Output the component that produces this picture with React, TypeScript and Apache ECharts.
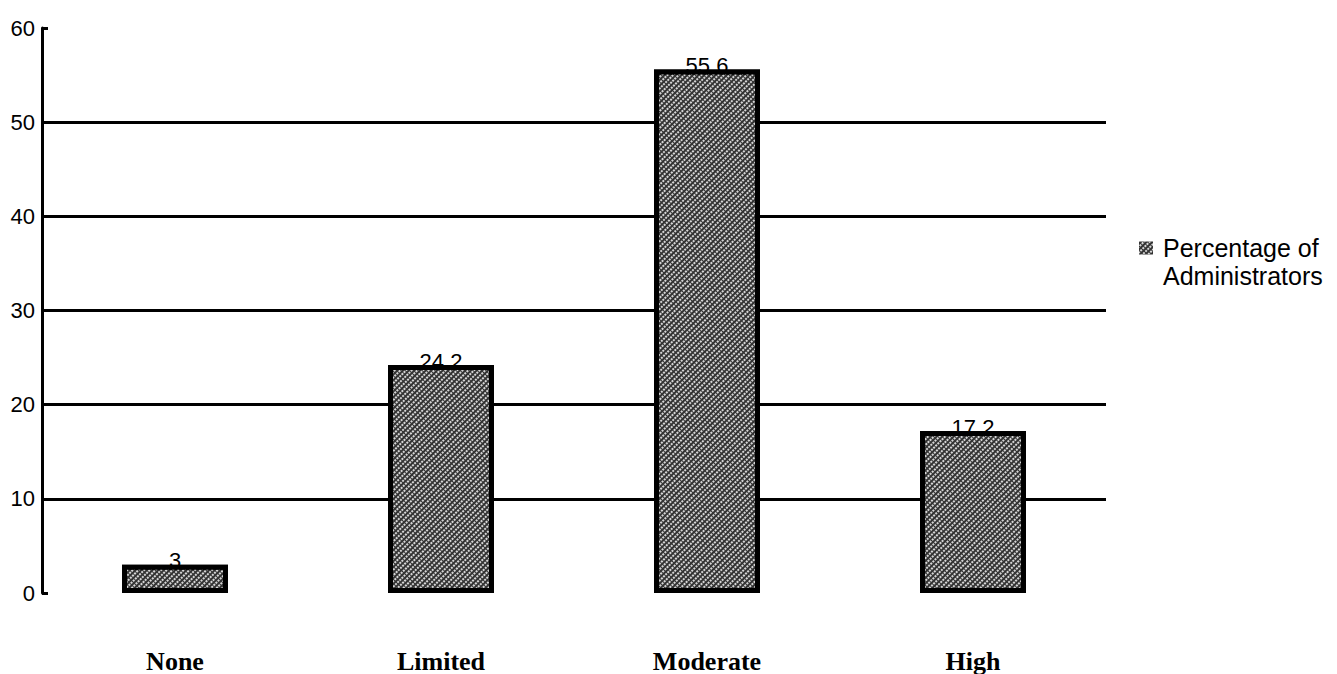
import React, { useEffect, useRef } from "react";
import * as echarts from "echarts";

const categories = ["None", "Limited", "Moderate", "High"];
const values = [3, 24.2, 55.6, 17.2];
const seriesName = "Percentage of Administrators";
const yTicks = [0, 10, 20, 30, 40, 50, 60];

export default function App() {
  const ref = useRef<HTMLDivElement>(null);
  useEffect(() => {
    document.body.style.margin = "0";
    const chart = echarts.init(ref.current!, null, { renderer: "svg" });
    const fill = {
      color: "#333333",
      decal: {
        symbol: "rect",
        symbolSize: 0.9,
        color: "#e8e8e8",
        dashArrayX: [2, 2],
        dashArrayY: [2, 1],
        rotation: Math.PI / 4,
      },
    };
    chart.setOption({
      animation: false,
      backgroundColor: "#ffffff",
      grid: { left: 42, right: 231, top: 28, bottom: 78, containLabel: false },
      legend: {
        left: 1139,
        top: 234,
        padding: 0,
        orient: "vertical",
        icon: "path://M0,7.5h14v13h-14zM0,0h0.01v0.01h-0.01zM13.99,55.99h0.01v0.01h-0.01z",
        itemWidth: 14,
        itemHeight: 56,
        itemStyle: { borderWidth: 0 },
        data: [seriesName],
        formatter: () => "Percentage of\nAdministrators",
        textStyle: {
          fontFamily: "Arial, Liberation Sans",
          fontSize: 25,
          color: "#000",
          lineHeight: 28,
          padding: [0, 0, 0, 5],
          align: "left",
        },
      },
      xAxis: {
        type: "category",
        data: categories,
        axisLine: { show: false },
        axisTick: { show: false },
        axisLabel: {
          margin: 55,
          fontFamily: "Times New Roman, Liberation Serif",
          fontWeight: "bold",
          fontSize: 26,
          color: "#000",
        },
      },
      yAxis: {
        type: "value",
        min: yTicks[0],
        max: yTicks[yTicks.length - 1],
        interval: 10,
        axisLine: { show: true, lineStyle: { color: "#000", width: 3 } },
        axisTick: { show: true, inside: true, length: 6, lineStyle: { color: "#000", width: 3 } },
        axisLabel: {
          margin: 7,
          fontFamily: "Arial, Liberation Sans",
          fontSize: 22,
          color: "#000",
        },
        splitLine: {
          show: true,
          lineStyle: {
            color: ["transparent", "#000", "#000", "#000", "#000", "#000", "transparent"],
            width: 3,
          },
        },
      },
      series: [
        {
          name: "labels",
          type: "bar",
          data: values,
          barWidth: 106,
          barGap: "-100%",
          z: 1,
          itemStyle: { color: "transparent" },
          label: {
            show: true,
            position: "top",
            distance: -7,
            fontFamily: "Arial, Liberation Sans",
            fontSize: 22,
            color: "#000",
          },
        },
        {
          name: seriesName,
          type: "bar",
          data: values,
          barWidth: 106,
          barGap: "-100%",
          z: 3,
          itemStyle: {
            ...fill,
            borderColor: "#000",
            borderWidth: 5,
          },
        },
      ],
    });
    return () => chart.dispose();
  }, []);
  return <div ref={ref} style={{ width: 1337, height: 674 }} />;
}
